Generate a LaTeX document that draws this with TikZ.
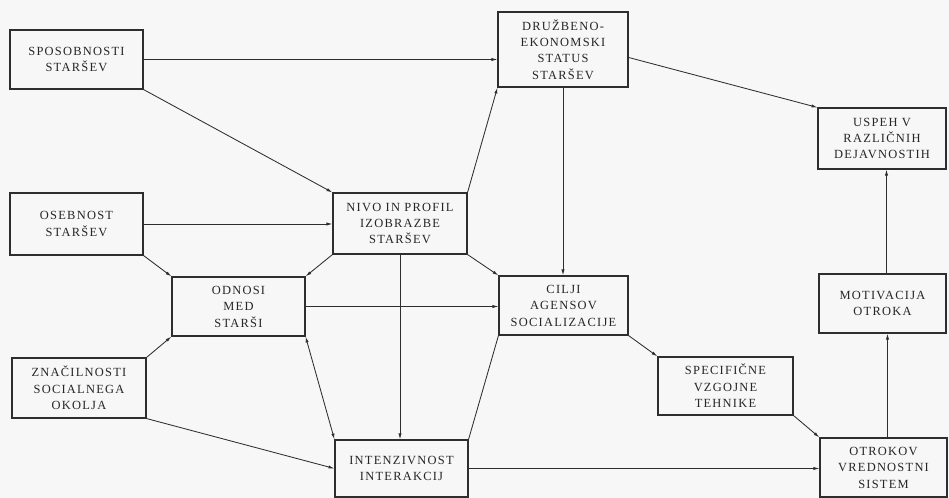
\documentclass[tikz,border=0pt]{standalone}
\usepackage{fontspec}
\setmainfont{Liberation Serif}
\newfontfamily\blokfont{Liberation Serif}[LetterSpace=10]
\usetikzlibrary{arrows.meta}
\begin{document}
\begin{tikzpicture}[
  x=1bp, y=-1bp,
  >={Latex[length=6pt,width=3.2pt]},
  blok/.style={
    draw=Cline, line width=1.1pt, text=Ctxt,
    font=\blokfont\fontsize{12.5}{16.5}\selectfont,
    inner sep=0pt, align=center
  },
  pot/.style={draw=Cline, line width=0.85pt}
]
\colorlet{Cline}{black!82}
\colorlet{Ctxt}{black!85}
\colorlet{Cbg}{black!3}
%% PAGE
\fill[Cbg] (0,0) rectangle (949,498);
\useasboundingbox (0,0) rectangle (949,498);
%% LEFT COLUMN
\node[blok, minimum width=133bp, minimum height=59bp] (spos)    at ( 76.5, 59.5) {SPOSOBNOSTI\\STARŠEV};
\node[blok, minimum width=133bp, minimum height=62bp] (oseb)    at ( 76.5,224.0) {OSEBNOST\\STARŠEV};
\node[blok, minimum width=134bp, minimum height=60bp] (znac)    at ( 79.0,388.0) {ZNAČILNOSTI\\SOCIALNEGA\\OKOLJA};
%% MIDDLE
\node[blok, minimum width=133bp, minimum height=59bp] (odnosi)  at (238.5,306.5) {ODNOSI\\MED\\STARŠI};
\node[blok, minimum width=134bp, minimum height=61bp] (nivo)    at (400.0,223.5) {NIVO IN PROFIL\\IZOBRAZBE\\STARŠEV};
\node[blok, minimum width=133bp, minimum height=57bp] (intenz)  at (401.5,468.5) {INTENZIVNOST\\INTERAKCIJ};
\node[blok, minimum width=130bp, minimum height=75bp] (druz)    at (563.0, 49.5) {DRUŽBENO-\\EKONOMSKI\\STATUS\\STARŠEV};
\node[blok, minimum width=129bp, minimum height=59bp] (cilji)   at (563.5,305.5) {CILJI\\AGENSOV\\SOCIALIZACIJE};
\node[blok, minimum width=135bp, minimum height=58bp] (spec)    at (725.5,386.0) {SPECIFIČNE\\VZGOJNE\\TEHNIKE};
%% RIGHT COLUMN
\node[blok, minimum width=128bp, minimum height=61bp] (uspeh)   at (882.0,138.5) {USPEH V\\RAZLIČNIH\\DEJAVNOSTIH};
\node[blok, minimum width=127bp, minimum height=59bp] (motiv)   at (882.5,303.5) {MOTIVACIJA\\OTROKA};
\node[blok, minimum width=127bp, minimum height=59bp] (otrokov) at (883.5,467.5) {OTROKOV\\VREDNOSTNI\\SISTEM};
%% CONNECTORS
\draw[pot,->]  (spos.east) -- (spos.east -| druz.west);
\draw[pot,->]  (spos.south east) -- (nivo.north west);
\draw[pot,->]  (oseb.east) -- (oseb.east -| nivo.west);
\draw[pot,->]  (oseb.south east) -- (odnosi.north west);
\draw[pot,->]  (znac.north east) -- (odnosi.south west);
\draw[pot,->]  (znac.south east) -- (intenz.west);
\draw[pot,->]  (nivo.north east) -- (druz.south west);
\draw[pot,->]  (nivo.south west) -- (odnosi.north east);
\draw[pot,->]  (nivo.south east) -- (cilji.north west);
\draw[pot,->]  (nivo.south) -- (nivo.south |- intenz.north);
\draw[pot,->]  (druz.south) -- (druz.south |- cilji.north);
\draw[pot,->]  ([yshift=-8pt]druz.east) -- (uspeh.north west);
\draw[pot,->]  (odnosi.east) -- (odnosi.east -| cilji.west);
\draw[pot,<->] (odnosi.south east) -- (intenz.north west);
\draw[pot]     (cilji.south west) -- (intenz.north east);
\draw[pot,->]  (cilji.south east) -- (spec.north west);
\draw[pot,->]  (spec.south east) -- (otrokov.north west);
\draw[pot,->]  (intenz.east) -- (intenz.east -| otrokov.west);
\draw[pot,->]  ([xshift=4pt]otrokov.north) -- ([xshift=4pt]otrokov.north |- motiv.south);
\draw[pot,->]  ([xshift=4pt]motiv.north) -- ([xshift=4pt]motiv.north |- uspeh.south);
\end{tikzpicture}
\end{document}
